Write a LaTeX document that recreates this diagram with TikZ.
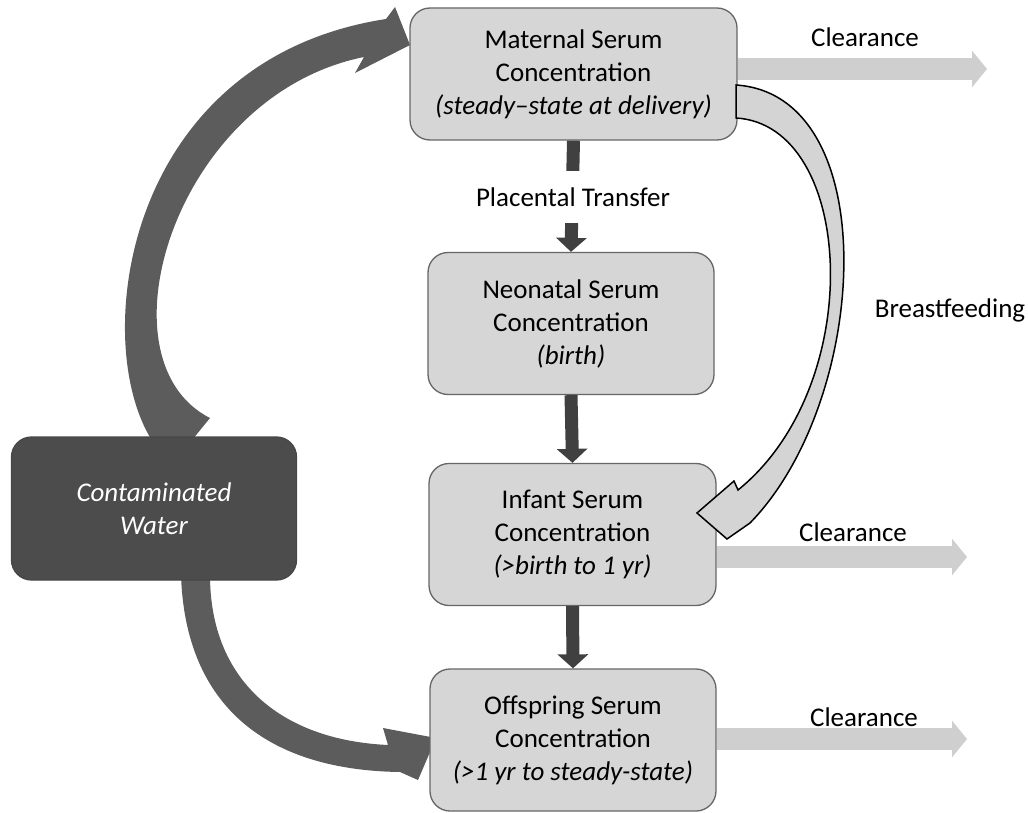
\documentclass[tikz,border=0pt]{standalone}
\usepackage{fontspec}
\setmainfont{Carlito}
\usetikzlibrary{arrows.meta,calc,backgrounds}
\begin{document}
\begin{tikzpicture}[x=1pt,y=-1pt,
  box/.style={draw=black!60, line width=1.3pt, fill=black!16, rounded corners=20pt,
              align=center, font=\fontsize{27}{33}\selectfont, inner sep=0pt},
  lbl/.style={font=\fontsize{27}{33}\selectfont, inner sep=0pt},
  clr/.style={line width=22pt, draw=black!19, -{Triangle[length=15pt,width=36pt]}},
  dark/.style={line width=13pt, draw=black!75, -{Triangle[length=14pt,width=30pt]}},
  curv/.style={fill=black!64},
  bfarrow/.style={fill=black!17, draw=black, line width=1.5pt, line join=miter}]
\useasboundingbox (0,0) rectangle (1028,813);

% boxes
\node[box, minimum width=327pt, minimum height=132pt] (mat) at (573.5,74)
  {Maternal Serum\\Concentration\\{\itshape (steady–state at delivery)}};
\node[box, minimum width=286pt, minimum height=142pt] (neo) at (571,323.5)
  {Neonatal Serum\\Concentration\\{\itshape (birth)}};
\node[box, minimum width=287pt, minimum height=142pt] (inf) at (572.5,534.5)
  {Infant Serum\\Concentration\\{\itshape (>birth to 1 yr)}};
\node[box, minimum width=286pt, minimum height=142pt] (off) at (573,740)
  {Offspring Serum\\Concentration\\{\itshape (>1 yr to steady-state)}};
\node[box, draw=black!72, fill=black!70, text=white, minimum width=285pt, minimum height=143pt] (cw) at (154,508.5)
  {\itshape Contaminated\\\itshape Water};

% vertical transfer arrows
\draw[dark] (mat.south) -- (neo.north);
\node[lbl, fill=white, inner xsep=4pt, inner ysep=17pt] (pt) at (573,197) {Placental Transfer};
\draw[dark] (neo.south) -- (inf.north);
\draw[dark] (inf.south) -- (off.north);

% clearance arrows
\coordinate (ce1) at (987,69);
\coordinate (ce2) at (967,557);
\coordinate (ce3) at (967,739);
\draw[clr] (mat.east |- ce1) -- (ce1);
\draw[clr] (inf.east |- ce2) -- (ce2);
\draw[clr] (off.east |- ce3) -- (ce3);
\node[lbl] (cl1) at (865,37) {Clearance};
\node[lbl] (cl2) at (853,532) {Clearance};
\node[lbl] (cl3) at (864,717) {Clearance};
\node[lbl] (bfl) at (950,310) {Breastfeeding};

% curved arrows from contaminated water
\begin{pgfonlayer}{background}
\fill[curv] (155,445) .. controls (88,350) and (120,60) .. (386,19) -- (395,7) -- (410,45)
  -- (355,73) -- (364,57) .. controls (175,95) and (95,360) .. (210,418) -- (188,445) -- cycle;
\fill[curv] (181,575) .. controls (185,700) and (260,770) .. (400,772) -- (418,780) -- (436,738)
  -- (383,728) -- (388,745) .. controls (280,740) and (210,680) .. (210,575) -- cycle;
\end{pgfonlayer}

% breastfeeding arrow
\filldraw[bfarrow] (736,85) .. controls (885,95) and (870,400) .. (750,523) -- (727,539) -- (697,513)
  -- (734,481) -- (738,490) .. controls (868,385) and (855,125) .. (736,118) -- cycle;
\end{tikzpicture}
\end{document}
